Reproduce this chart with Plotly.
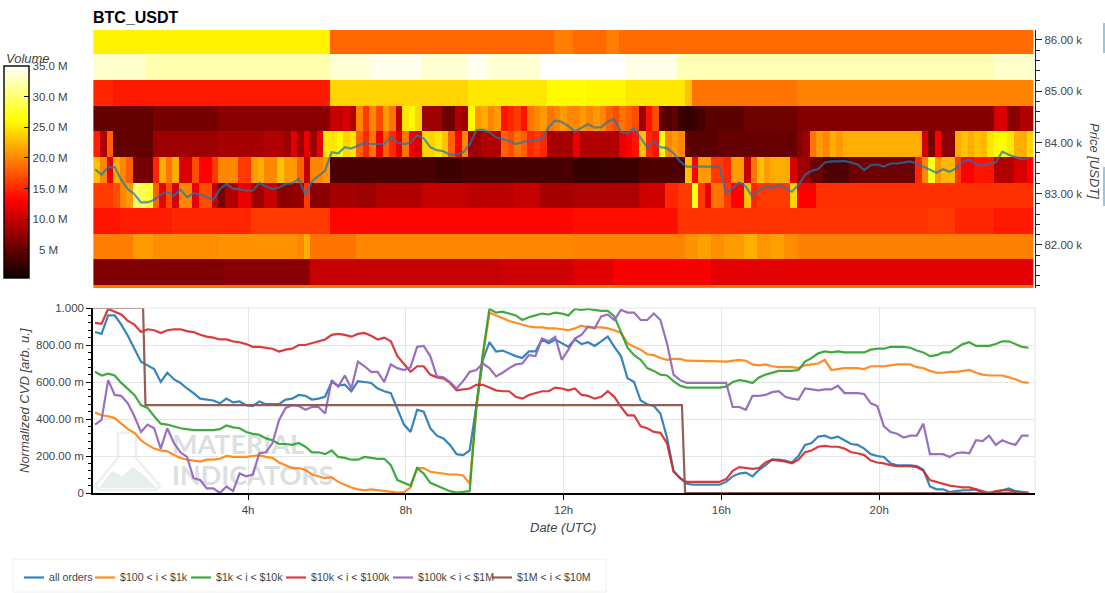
import numpy as np
import plotly.graph_objects as go

# --- order-book heatmap: one row per 500 USDT price bucket, 10 minute columns ---
# Entries are a volume in millions, or (run length, volume) for repeated columns.
row_86000 = [(36, 25.6), (34, 18.3), (3, 19.5), (5, 18.5), (2, 19.5), (63, 18.5)]
row_85500 = [(8, 33.2), (28, 32.2), (6, 33.6), (8, 34.3), (7, 33.4), (3, 34.5), (8, 33.4), (13, 35), (8, 34.2), (48, 32.4), (6, 33.2)]
row_85000 = [(3, 15), (33, 14.3), (21, 24), (12, 25), (6, 26), (6, 25.8), (9, 25), (1, 23), (16, 19), (36, 19.8)]
row_84500 = [(9, 5), (10, 6), (17, 7), (2, 10), 11, 9, 20, 16, 20, 17, 21, 19, 10, 25, 26, 24, (3, 8), (2, 5.5), 9, 8, 26,
             21, 22, 20, 21, 14, 15, 16, 14, 19, 20, 21, 19, 20, 21, 20, 20, 21, 20, 21, 20, 18, 17, 19, 18, 17, 8, 14, 17,
             5, 4, 5, 3, 2.5, 3, 3.5, (6, 4.5), (8, 5.5), (30, 6.7), (2, 11), (2, 7), (2, 9)]
row_84000 = [14.5, 9, 18, (6, 5), (10, 8), (7, 8.5), (3, 9), 8, 11.5, 8, 12, 8, 12, 25, 25, 26, 24, 25, 18,
             15, 19, 12, 18, 15, 12, 19, 12, 11, 24, 24, 25, 23, 18, 13, 20, 8, 8, 9, 9, 9, 18, 17, 19, 18, 15, 16, 15,
             (4, 8.5), 12, (6, 9), 12, 13, 14, 23, 15, 14, 26, 20, 21, 20, (5, 4.5), (12, 5.2), 7, 8,
             19, 21, 20, 22, 21, 22, (11, 22), 11, 6, 13, 7, 7, 22, 23, 22, 23, 22.5, 25, 26, 26, 25, 22, 22, 24]
row_83500 = [23, 20, 12, 22, 20, 18, (3, 6), 15, 22, 19, 22, (2, 11), 17, (2, 13), 16, (3, 20), (2, 16), 21, 22, (2, 20), 23,
             (2, 21), 18, 10, 20, 20, 21, (16, 3.7), (4, 3), (17, 3.6), (5, 2.8), (5, 3), (7, 4), 23, 13, (2, 21), (2, 16), 15,
             (2, 21), 10, 19, 23, 21, 22, 22, 22, 11, (2, 8), (2, 5.5), (4, 4), (10, 5.5), 15, 20, 27, 21, (2, 22.5), 16,
             (2, 13), (3, 14), (3, 9), (2, 11), 13]
row_83000 = [(3, 16), 17, 20, 21, 30, 29, 28, 18, 12, 17, 11, (2, 20), 12, (2, 17), 10, 6, (2, 9), (2, 12), (2, 8), (2, 10),
             (2, 7), (2, 7.5), 16, (3, 7), (4, 8.5), (3, 8), (7, 9), (7, 10), (7, 9.5), (4, 10), (5, 8.5), (10, 8.8), (4, 10.5),
             (2, 15), (2, 16), 27, 16, 12, (2, 19), 16, (2, 13), 23, 15, (5, 16), 24, (3, 13), (33, 15.5)]
row_82500 = [(4, 14), (8, 14.5), (12, 15), (12, 16), (37, 13.3), (16, 13.8), (38, 15.7), (4, 16), (6, 15), (6, 14.3)]
row_82000 = [(6, 19.5), (3, 21), (10, 20.3), (12, 20.6), 20, 22, (7, 19), (33, 20), (17, 19.7), (2, 20.6), (2, 21.3), (2, 20.3),
             (3, 21), (2, 22), (2, 20.8), (2, 21.3), (2, 20.3), (36, 19.6)]
row_81500 = [(20, 6.5), (13, 7), (29, 10), (11, 10.5), (6, 11.5), (15, 12.7), (49, 11.6)]
row_81000 = [(143, 19)]

# Bucket centres, kUSDT
price_levels = [85.97, 85.47, 84.97, 84.47, 83.97, 83.47, 82.97, 82.47, 81.97, 81.47, 80.97]

# --- traded price, kUSDT, one row per hour of the day ---
price = [
    83.48, 83.37, 83.52, 83.52, 83.27, 83.09,
    82.99, 82.83, 82.83, 82.88, 82.98, 83.04,
    82.96, 83.08, 82.93, 83.01, 82.99, 82.93,
    82.88, 83.09, 83.19, 83.10, 83.09, 83.06,
    83.06, 83.21, 83.14, 83.09, 83.12, 83.19,
    83.20, 83.29, 82.98, 83.24, 83.35, 83.45,
    83.81, 83.79, 83.91, 83.88, 83.94, 83.99,
    83.97, 83.97, 83.97, 84.10, 84.00, 83.97,
    84.00, 84.14, 84.08, 83.91, 83.85, 83.83,
    83.76, 83.76, 83.81, 83.96, 84.24, 84.25,
    84.20, 84.10, 84.07, 84.03, 83.97, 84.01,
    84.04, 84.04, 84.07, 84.30, 84.43, 84.40,
    84.32, 84.21, 84.28, 84.36, 84.29, 84.30,
    84.41, 84.45, 84.21, 84.17, 84.28, 84.10,
    83.90, 84.02, 83.91, 83.89, 83.79, 83.63,
    83.53, 83.53, 83.53, 83.53, 83.53, 83.53,
    83.01, 83.11, 83.22, 83.14, 82.94, 83.07,
    83.14, 83.11, 83.17, 83.11, 83.04, 83.17,
    83.37, 83.45, 83.48, 83.61, 83.63, 83.63,
    83.64, 83.61, 83.57, 83.46, 83.56, 83.57,
    83.53, 83.59, 83.59, 83.61, 83.63, 83.59,
    83.53, 83.46, 83.41, 83.48, 83.43, 83.50,
    83.63, 83.66, 83.58, 83.55, 83.59, 83.61,
    83.82, 83.76, 83.72, 83.67, 83.69,
]

# --- normalized CVD per order-size class ---
cvd_all = [
    .87, .86, .96, .96, .91, .85,
    .78, .71, .69, .67, .60, .65,
    .615, .595, .565, .54, .51, .505,
    .50, .485, .51, .49, .495, .475,
    .47, .495, .48, .48, .48, .505,
    .51, .53, .525, .505, .51, .52,
    .60, .58, .585, .55, .605, .60,
    .595, .565, .55, .54, .45, .37,
    .33, .45, .44, .35, .31, .295,
    .26, .21, .205, .23, .47, .72,
    .815, .765, .77, .755, .74, .73,
    .765, .765, .83, .81, .83, .81,
    .79, .83, .805, .815, .795, .82,
    .845, .79, .74, .62, .60, .50,
    .48, .47, .43, .30, .12, .08,
    .05, .045, .045, .045, .045, .045,
    .06, .09, .105, .11, .09, .125,
    .15, .18, .18, .175, .165, .20,
    .26, .27, .305, .31, .295, .305,
    .285, .265, .26, .24, .21, .20,
    .195, .16, .15, .15, .15, .145,
    .125, .035, .02, .02, .005, .01,
    .015, .015, .02, 0, .002, .003,
    .015, .025, .01, .005, .002,
]
cvd_100_1k = [
    .435, .42, .415, .405, .375, .345,
    .325, .285, .26, .24, .23, .225,
    .205, .19, .18, .175, .17, .18,
    .18, .185, .20, .195, .195, .195,
    .20, .205, .195, .19, .165, .15,
    .135, .135, .125, .10, .09, .08,
    .085, .06, .045, .03, .02, .015,
    .02, .015, .01, .005, .002, .005,
    .03, .135, .135, .115, .11, .105,
    .10, .10, .095, .05, .45, .74,
    .975, .96, .945, .93, .92, .91,
    .90, .895, .895, .89, .89, .885,
    .88, .89, .905, .895, .895, .895,
    .89, .88, .865, .81, .79, .775,
    .75, .745, .73, .72, .725, .725,
    .715, .715, .715, .715, .712, .712,
    .71, .715, .72, .715, .695, .69,
    .695, .685, .68, .68, .68, .675,
    .69, .695, .70, .72, .665, .67,
    .675, .675, .675, .67, .685, .685,
    .685, .69, .695, .695, .695, .68,
    .675, .66, .65, .65, .655, .655,
    .66, .665, .65, .64, .635, .635,
    .635, .625, .615, .60, .595,
]
cvd_1k_10k = [
    .655, .635, .645, .635, .595, .56,
    .53, .475, .46, .415, .375, .37,
    .36, .35, .345, .34, .34, .34,
    .34, .345, .365, .355, .35, .33,
    .32, .315, .295, .285, .265, .265,
    .26, .27, .25, .22, .22, .21,
    .23, .195, .19, .18, .18, .195,
    .19, .185, .185, .15, .07, .055,
    .04, .135, .105, .055, .04, .025,
    .01, .002, .005, .01, .47, .755,
    .995, .975, .98, .97, .96, .935,
    .95, .96, .97, .965, .975, .97,
    .96, .995, .99, .995, .99, .985,
    .985, .955, .87, .785, .745, .72,
    .675, .66, .64, .635, .605, .58,
    .57, .57, .57, .57, .57, .57,
    .575, .60, .61, .605, .595, .625,
    .64, .65, .66, .66, .66, .665,
    .71, .73, .755, .765, .76, .765,
    .76, .76, .76, .76, .775, .78,
    .78, .79, .79, .79, .785, .77,
    .76, .74, .745, .76, .76, .785,
    .805, .815, .795, .795, .795, .805,
    .82, .82, .805, .79, .785,
]
cvd_10k_100k = [
    .92, .915, .995, .98, .965, .93,
    .91, .87, .885, .88, .865, .88,
    .885, .885, .875, .87, .855, .845,
    .84, .83, .83, .82, .815, .805,
    .79, .79, .785, .78, .765, .775,
    .78, .80, .80, .81, .82, .83,
    .855, .86, .855, .845, .86, .865,
    .85, .83, .84, .82, .74, .695,
    .655, .685, .685, .64, .625, .62,
    .595, .555, .56, .565, .585, .585,
    .57, .555, .55, .55, .52, .51,
    .53, .54, .55, .55, .57, .565,
    .555, .565, .53, .525, .51, .52,
    .55, .52, .465, .42, .42, .36,
    .35, .33, .325, .27, .115, .08,
    .06, .06, .06, .06, .06, .06,
    .075, .12, .14, .135, .13, .135,
    .165, .18, .175, .17, .16, .18,
    .22, .23, .25, .255, .25, .25,
    .24, .22, .215, .205, .175, .165,
    .16, .15, .145, .145, .145, .14,
    .12, .07, .06, .05, .04, .035,
    .03, .03, .02, .01, 0, .01,
    .015, .015, .005, 0, 0,
]
cvd_100k_1m = [
    .37, .395, .61, .53, .525, .485,
    .415, .33, .37, .35, .24, .35,
    .27, .22, .195, .08, .07, .025,
    .025, 0, .035, .01, .105, .09,
    .10, .215, .22, .27, .395, .46,
    .475, .47, .45, .465, .465, .43,
    .61, .575, .635, .565, .71, .685,
    .655, .655, .60, .695, .675, .665,
    .68, .79, .795, .74, .63, .625,
    .60, .565, .605, .655, .665, .70,
    .675, .63, .65, .675, .695, .70,
    .745, .74, .835, .82, .845, .72,
    .775, .835, .855, .90, .89, .955,
    .965, .935, .99, .975, .975, .935,
    .935, .97, .935, .81, .64, .61,
    .595, .595, .595, .595, .595, .595,
    .595, .465, .465, .45, .525, .525,
    .53, .545, .55, .52, .51, .505,
    .565, .56, .555, .56, .56, .58,
    .54, .54, .54, .535, .485, .47,
    .36, .33, .32, .30, .31, .31,
    .375, .21, .21, .21, .195, .215,
    .22, .215, .285, .28, .31, .26,
    .285, .27, .26, .31, .31,
]
# The largest size class is a step function with its own sample times.
whale_hours = [0.08, 1.34, 1.40, 15.0, 15.08, 23.79]
cvd_1m_10m = [1.0, 1.0, .475, .475, 0, 0]

series_names = ["all orders", "$100 < i < $1k", "$1k < i < $10k", "$10k < i < $100k", "$100k < i < $1M", "$1M < i < $10M"]
series_colors = ["rgba(31,119,180,0.9)", "rgba(255,127,14,0.9)", "rgba(44,160,44,0.9)",
                 "rgba(214,39,40,0.9)", "rgba(148,103,189,0.95)", "rgba(140,86,75,0.95)"]

price_ticks = [82, 83, 84, 85, 86]
price_tick_text = ["82.00 k", "83.00 k", "84.00 k", "85.00 k", "86.00 k"]
cvd_ticks = [0, .2, .4, .6, .8, 1.0]
cvd_tick_text = ["0", "200.00 m", "400.00 m", "600.00 m", "800.00 m", "1.000"]
hour_ticks = [4, 8, 12, 16, 20]
hour_tick_text = ["4h", "8h", "12h", "16h", "20h"]
volume_ticks = [5, 10, 15, 20, 25, 30, 35]
volume_tick_text = ["\u00a0\u00a05 M", "10.0 M", "15.0 M", "20.0 M", "25.0 M", "30.0 M", "35.0 M"]


def expand(row):
    cells = []
    for entry in row:
        if isinstance(entry, tuple):
            cells.extend([entry[1]] * entry[0])
        else:
            cells.append(entry)
    return cells


volume = [expand(r) for r in (row_86000, row_85500, row_85000, row_84500, row_84000, row_83500,
                              row_83000, row_82500, row_82000, row_81500, row_81000)]
column_hours = 0.08 + 1 / 12 + np.arange(len(volume[0])) / 6
line_hours = 0.12 + np.arange(len(price)) / 6

# Page geometry: plot areas sit in a 942 x 463 px box.
LEFT, RIGHT, TOP, BOTTOM = 93, 1035, 30, 493
WIDTH, HEIGHT = RIGHT - LEFT, BOTTOM - TOP


def px(x):
    return (x - LEFT) / WIDTH


def py(y):
    return (BOTTOM - y) / HEIGHT


TEXT = "#444444"
FONT = "Liberation Sans, Arial, sans-serif"
GRID = "#e6e6e6"

fig = go.Figure()

fig.add_trace(go.Heatmap(
    x=column_hours, y=price_levels, z=volume, zmin=0.4, zmax=35,
    colorscale=[[0, "#0a0000"], [0.365, "#ff0000"], [0.746, "#ffff00"], [1, "#ffffff"]],
    xaxis="x", yaxis="y", hoverinfo="skip",
    colorbar=dict(
        x=px(4), xanchor="left", xpad=0, y=py(278), yanchor="bottom", ypad=0,
        len=(278 - 66) / HEIGHT, thickness=25, outlinecolor="black", outlinewidth=1.4,
        ticks="inside", ticklen=5, tickcolor="black", tickvals=volume_ticks, ticktext=volume_tick_text,
        tickfont=dict(size=11.5, color=TEXT, family=FONT),
    ),
))
fig.add_trace(go.Scatter(x=line_hours, y=price, mode="lines", xaxis="x", yaxis="y", showlegend=False,
                         line=dict(color="rgba(31,119,180,0.72)", width=2.2)))

# Faded brand mark behind the CVD lines
fig.add_trace(go.Scatter(
    x=[2.07, 2.07], y=[.249, .081], text=["MATERIAL", "INDICATORS"], mode="text", textposition="middle right",
    textfont=dict(size=27, color="#dcdfdf", family="Lato, Liberation Sans, sans-serif", weight="bold"),
    xaxis="x2", yaxis="y2", showlegend=False, hoverinfo="skip",
))

cvd_columns = [cvd_all, cvd_100_1k, cvd_1k_10k, cvd_10k_100k, cvd_100k_1m]
for name, color, values in zip(series_names, series_colors, cvd_columns):
    fig.add_trace(go.Scatter(x=line_hours, y=values, mode="lines", name=name, xaxis="x2", yaxis="y2",
                             showlegend=False, line=dict(color=color, width=2.2)))
fig.add_trace(go.Scatter(x=whale_hours, y=cvd_1m_10m, mode="lines", name=series_names[5], xaxis="x2", yaxis="y2",
                         showlegend=False, line=dict(color=series_colors[5], width=2.2)))


def paper_line(x0, y0, x1, y1, color, width=1.0):
    return dict(type="line", xref="paper", yref="paper", x0=px(x0), y0=py(y0), x1=px(x1), y1=py(y1),
                line=dict(color=color, width=width))


shapes = [
    # light frame around the CVD panel
    paper_line(RIGHT, 308, RIGHT, 493, GRID),
    paper_line(93, 308, RIGHT, 308, GRID),
    # legend box
    dict(type="rect", xref="paper", yref="paper", x0=px(13), y0=py(592), x1=px(606), y1=py(559),
         line=dict(color="#f0f0f0", width=1), fillcolor="white"),
    # page edge accents
    paper_line(1104, 23, 1104, 53, "#4aa3c7", 1.2),
    paper_line(1104, 167, 1104, 206, "#4aa3c7", 1.2),
]


# Flask of the brand mark, drawn below the grid
def path_of(points, close=True):
    return "M" + " L".join(f"{px(x):.5f},{py(y):.5f}" for x, y in points) + (" Z" if close else "")


shapes.append(dict(type="path", xref="paper", yref="paper", layer="below",
                   path=path_of([(118, 433), (136, 433), (136, 458), (160, 486), (156, 490), (99, 490), (95, 486), (118, 458)]),
                   line=dict(color="#edf0f0", width=2.5), fillcolor="rgba(255,255,255,0)"))
shapes.append(dict(type="path", xref="paper", yref="paper", layer="below",
                   path=path_of([(99, 488), (112, 471), (122, 476), (133, 467), (146, 477), (156, 488)]),
                   line=dict(width=0), fillcolor="#e6efec"))

# Legend row: sample line plus label at fixed spots on the page
legend_samples = [24, 95, 191, 286, 393, 492]
legend_labels = [49, 120, 216, 311, 418, 517]
annotations = []
for name, color, start, label_x in zip(series_names, series_colors, legend_samples, legend_labels):
    shapes.append(paper_line(start, 577.5, start + 20, 577.5, color, 2.2))
    annotations.append(dict(text=name.replace("<", "&lt;"), x=px(label_x), y=py(577), xref="paper", yref="paper",
                            xanchor="left", yanchor="middle", showarrow=False, xshift=-2,
                            font=dict(size=10.6, color=TEXT, family=FONT)))

annotations += [
    dict(text="<i>Volume</i>", x=px(5), y=py(58), xref="paper", yref="paper", xanchor="left", yanchor="middle",
         showarrow=False, font=dict(size=13, color=TEXT, family=FONT), xshift=-1),
    dict(text="<i>Price [USDT]</i>", x=px(1095), y=py(161), xref="paper", yref="paper", xanchor="center", yanchor="middle",
         textangle=90, showarrow=False, font=dict(size=13, color=TEXT, family=FONT)),
    dict(text="<i>Normalized CVD [arb. u.]</i>", x=px(24), y=py(401), xref="paper", yref="paper", xanchor="center",
         yanchor="middle", textangle=-90, showarrow=False, font=dict(size=13, color=TEXT, family=FONT)),
    dict(text="<i>Date (UTC)</i>", x=px(563), y=py(527), xref="paper", yref="paper", xanchor="center", yanchor="middle",
         showarrow=False, font=dict(size=13, color=TEXT, family=FONT)),
]

fig.update_layout(
    width=1105, height=593,
    margin=dict(l=LEFT, r=1105 - RIGHT, t=TOP, b=593 - BOTTOM, pad=0, autoexpand=False),
    paper_bgcolor="white", plot_bgcolor="white", showlegend=False,
    font=dict(family=FONT, size=11, color=TEXT),
    title=dict(text="<b>BTC_USDT</b>", x=LEFT / 1105, xanchor="left", y=1 - 17 / 593, yanchor="middle",
               font=dict(size=16, color="black", family=FONT)),
    shapes=shapes, annotations=annotations,
    xaxis=dict(domain=[0, 1], range=[0.07, 23.95], anchor="y", visible=False),
    yaxis=dict(domain=[py(288), 1], range=[81.16, 86.195], side="right", anchor="x", showgrid=False, zeroline=False,
               showline=True, linecolor="#222222", linewidth=1.2,
               tickvals=price_ticks, ticktext=price_tick_text, ticks="outside", ticklen=6, tickcolor="#222222",
               tickfont=dict(size=11.5, color=TEXT),
               minor=dict(tick0=82, dtick=0.2, ticks="outside", ticklen=4, tickcolor="#222222", showgrid=False)),
    xaxis2=dict(domain=[0, 1], range=[0.07, 23.95], anchor="y2", matches="x", showgrid=True, gridcolor=GRID, zeroline=False,
                showline=True, linecolor="black", linewidth=1.5, tickvals=hour_ticks, ticktext=hour_tick_text,
                ticks="outside", ticklen=5, tickcolor="black", tickfont=dict(size=11.5, color=TEXT)),
    yaxis2=dict(domain=[0, py(308)], range=[0, 1.0], anchor="x2", showgrid=True, gridcolor=GRID, zeroline=False,
                showline=True, linecolor="black", linewidth=1.5, tickvals=cvd_ticks, ticktext=cvd_tick_text,
                ticks="outside", ticklen=5, tickcolor="black", tickfont=dict(size=11.5, color=TEXT),
                minor=dict(tick0=0, dtick=0.04, ticks="outside", ticklen=3, tickcolor="black", showgrid=False)),
)

fig.write_html("out.html")
